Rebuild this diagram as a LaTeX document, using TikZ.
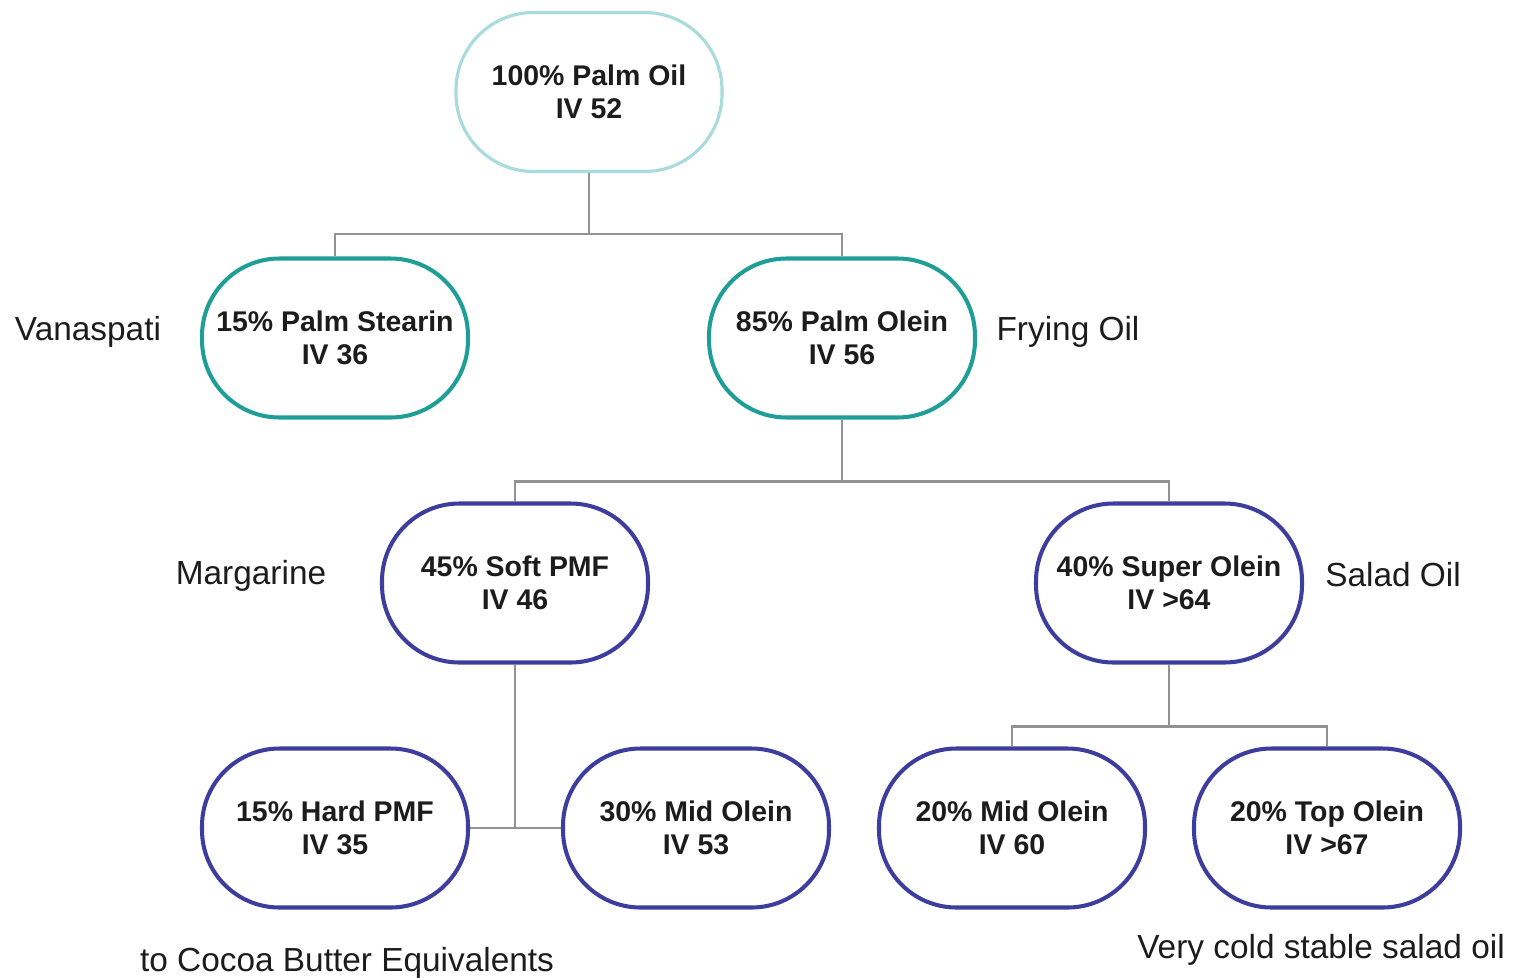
\documentclass[tikz,border=0pt]{standalone}
\usepackage{fontspec}
\setmainfont{Liberation Sans}
\usetikzlibrary{calc}
\definecolor{rootline}{HTML}{A9DADD}
\definecolor{tealline}{HTML}{1F9E98}
\definecolor{blueline}{HTML}{3D3D9E}
\definecolor{linkgray}{HTML}{929292}
\definecolor{txt}{HTML}{1C1C1C}
\begin{document}
\begin{tikzpicture}[
    oil/.style={draw, rounded corners=1.55cm, minimum width=5.32cm, minimum height=3.18cm,
        line width=2.3pt, align=center, text=txt,
        font=\fontsize{16.2}{19}\selectfont\bfseries},
    link/.style={draw=linkgray, line width=1.6pt},
    use/.style={text=txt, font=\fontsize{19}{23}\selectfont}
]
    \useasboundingbox (0,0) rectangle (30.26,-19.54);
    % fractions
    \node[oil, draw=rootline, line width=1.8pt] (root) at (11.78,-1.84) {100\% Palm Oil\\IV 52};
    \node[oil, draw=tealline] (stearin) at (6.70,-6.76) {15\% Palm Stearin\\IV 36};
    \node[oil, draw=tealline] (olein) at (16.84,-6.76) {85\% Palm Olein\\IV 56};
    \node[oil, draw=blueline] (softpmf) at (10.30,-11.66) {45\% Soft PMF\\IV 46};
    \node[oil, draw=blueline] (superolein) at (23.38,-11.66) {40\% Super Olein\\IV >64};
    \node[oil, draw=blueline] (hardpmf) at (6.70,-16.56) {15\% Hard PMF\\IV 35};
    \node[oil, draw=blueline] (midolein) at (13.92,-16.56) {30\% Mid Olein\\IV 53};
    \node[oil, draw=blueline] (midoleinb) at (20.24,-16.56) {20\% Mid Olein\\IV 60};
    \node[oil, draw=blueline] (topolein) at (26.54,-16.56) {20\% Top Olein\\IV >67};
    % uses
    \node[use] (vanaspati) at (1.76,-6.64) {Vanaspati};
    \node[use] (frying) at (21.36,-6.64) {Frying Oil};
    \node[use] (margarine) at (5.02,-11.52) {Margarine};
    \node[use] (salad) at (27.86,-11.50) {Salad Oil};
    \node[use] (cbe) at (6.94,-19.26) {to Cocoa Butter Equivalents};
    \node[use] (coldsalad) at (26.42,-19.00) {Very cold stable salad oil};
    % links
    \draw[link] (root.south) -- ++(0,-1.22) -| (stearin.north);
    \draw[link] (root.south) -- ++(0,-1.22) -| (olein.north);
    \draw[link] (olein.south) -- ++(0,-1.24) -| (softpmf.north);
    \draw[link] (olein.south) -- ++(0,-1.24) -| (superolein.north);
    \draw[link] (softpmf.south) -- (softpmf.south |- hardpmf.east);
    \draw[link] (hardpmf.east) -- (midolein.west);
    \draw[link] (superolein.south) -- ++(0,-1.24) -| (midoleinb.north);
    \draw[link] (superolein.south) -- ++(0,-1.24) -| (topolein.north);
\end{tikzpicture}
\end{document}
